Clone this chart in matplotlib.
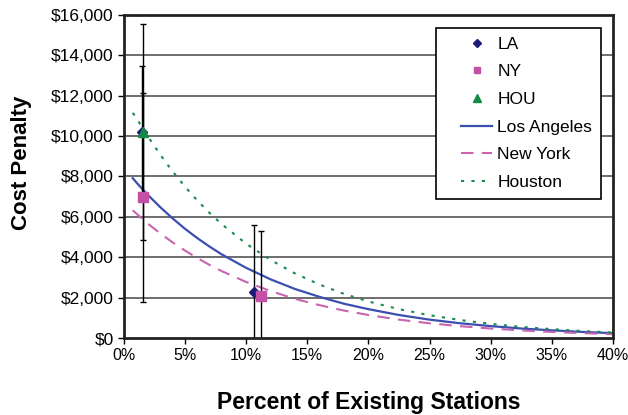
import numpy as np
import matplotlib.pyplot as plt
from matplotlib.lines import Line2D
from matplotlib.legend_handler import HandlerLine2D
from matplotlib.ticker import FuncFormatter

plt.rcParams['font.family'] = ['Liberation Sans', 'DejaVu Sans']

# observed points (percent of existing stations, cost penalty, error)
la_x = [1.5, 10.66]
la_y = [10200, 2270]
la_err = [3260, 3340]
ny_x = [1.55, 11.19]
ny_y = [6960, 2085]
ny_err = [5200, 3195]
hou_x = [1.6]
hou_y = [10200]
hou_err = [5350]

# trend curves
curve_x = [0.75, 1, 1.5, 2, 3, 4, 5, 6, 7, 8, 10, 12, 14, 16, 18, 20,
           22.5, 25, 27.5, 30, 32.5, 35, 37.5, 40]
los_angeles = [7920, 7740, 7400, 7080, 6480, 5930, 5420, 4960, 4540, 4150,
               3480, 2910, 2430, 2040, 1700, 1430, 1140, 910, 730, 590,
               470, 380, 300, 240]
new_york = [6330, 6190, 5920, 5660, 5180, 4740, 4340, 3970, 3630, 3320,
            2780, 2330, 1940, 1630, 1360, 1140, 910, 730, 585, 470,
            375, 300, 240, 190]
houston = [11150, 10950, 10450, 9980, 9080, 8260, 7510, 6830, 6210, 5650,
           4680, 3870, 3200, 2650, 2190, 1810, 1430, 1130, 890, 700,
           550, 440, 345, 270]

c_la = '#1c1c78'
c_ny = '#c64fa6'
c_hou = '#138a45'

fig = plt.figure(figsize=(6.28, 4.15), dpi=100)
ax = fig.add_axes([0.1967, 0.1855, 0.7797, 0.7784])

for y in range(2000, 16001, 2000):
    ax.axhline(y, color='#555555', lw=1.2, zorder=0)

ax.plot(curve_x, los_angeles, color='#3a4fb0', lw=1.6, label='Los Angeles', zorder=2)
ax.plot(curve_x, new_york, color='#c964b0', lw=1.5, ls=(0, (6, 4)), label='New York', zorder=2)
ax.plot(curve_x, houston, color='#1a8c4a', lw=1.5, ls=(0, (1.5, 3.5)), label='Houston', zorder=2)

eb = dict(ecolor='black', elinewidth=1.0, capsize=2.2, capthick=1.0, ls='none', zorder=3)
ax.errorbar(hou_x, hou_y, yerr=hou_err, fmt='none', **eb)
ax.errorbar(ny_x, ny_y, yerr=ny_err, fmt='none', **eb)
ax.errorbar(la_x, la_y, yerr=la_err, fmt='none', **eb)

ax.plot(la_x, la_y, 'D', color=c_la, ms=5, ls='none', label='LA', zorder=4)
ax.plot(ny_x, ny_y, 's', color=c_ny, ms=6.5, ls='none', label='NY', zorder=4)
ax.plot(hou_x, hou_y, '^', color=c_hou, ms=7, ls='none', label='HOU', zorder=5)

ax.set_xlim(0, 40)
ax.set_ylim(0, 16000)
ax.set_xticks(np.arange(0, 41, 5))
ax.set_yticks(np.arange(0, 16001, 2000))
ax.xaxis.set_major_formatter(FuncFormatter(lambda v, p: f'{v:.0f}%'))
ax.yaxis.set_major_formatter(FuncFormatter(lambda v, p: f'${v:,.0f}'))
ax.tick_params(direction='out', length=4, width=1, labelsize=12.5, pad=3)
ax.tick_params(axis='x', labelsize=11.5)

for s in ax.spines.values():
    s.set_linewidth(2)
    s.set_color('#222222')

ax.set_xlabel('Percent of Existing Stations', fontsize=16.5, fontweight='bold', labelpad=20)
ax.set_ylabel('Cost Penalty', fontsize=16, fontweight='bold')
ax.yaxis.set_label_coords(-0.187, 0.542)

handles, labels = ax.get_legend_handles_labels()
order = ['LA', 'NY', 'HOU', 'Los Angeles', 'New York', 'Houston']
hmap = dict(zip(labels, handles))
leg = ax.legend([hmap[k] for k in order], order, loc='upper right',
                bbox_to_anchor=(0.975, 0.96), fontsize=12.5, frameon=True,
                fancybox=False, edgecolor='black', framealpha=1,
                handlelength=2.72, handletextpad=0.3, labelspacing=0.72,
                borderpad=0.5, borderaxespad=0, markerscale=0.75,
                handler_map={Line2D: HandlerLine2D(xpad=0.92)})
leg.get_frame().set_linewidth(1.2)
leg.set_zorder(10)

fig.savefig('out.png', dpi=100)
